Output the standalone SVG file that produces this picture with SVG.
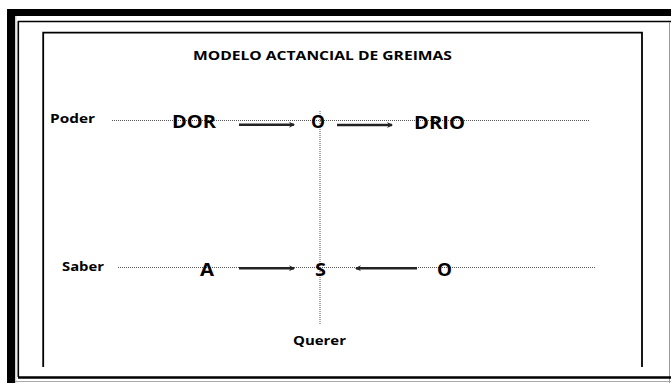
<svg xmlns="http://www.w3.org/2000/svg" width="671" height="383" viewBox="0 0 671 383">
<style>
.lbl{font-family:"Open Sans","Liberation Sans",sans-serif;font-weight:bold;fill:#000}
.small{font-size:12px}
.big{font-size:17px}
.dot{stroke:#555;stroke-width:1;stroke-dasharray:1 1;fill:none}
.arr{stroke:#222;stroke-width:2.5;fill:none;marker-end:url(#ah)}
.frame{stroke:#000;fill:none}
</style>
<defs>
<marker id="ah" markerWidth="8" markerHeight="8" refX="5" refY="4" orient="auto" markerUnits="userSpaceOnUse">
<path d="M0,1 L6,4 L0,7 L2,4 Z" fill="#222"/>
</marker>
</defs>
<rect width="671" height="383" fill="#fff"/>
<g id="frame">
<rect x="7" y="9" width="664" height="7" fill="#000"/>
<rect x="7" y="9" width="8" height="374" fill="#000"/>
<line x1="15.8" y1="16" x2="15.8" y2="383" stroke="#aaa" stroke-width="0.8"/>
<line x1="18" y1="21.5" x2="671" y2="21.5" class="frame" stroke-width="1.6"/>
<line x1="18.3" y1="21" x2="18.3" y2="377" class="frame" stroke-width="1.6"/>
<line x1="669.5" y1="22" x2="669.5" y2="383" stroke="#999" stroke-width="1"/>
<line x1="18" y1="377.5" x2="671" y2="377.5" class="frame" stroke-width="2.6"/>
<line x1="15" y1="381.5" x2="671" y2="381.5" stroke="#aaa" stroke-width="1"/>
<polyline points="43.2,367 43.2,32.6 642,32.6 642,367" class="frame" stroke-width="1.8"/>
</g>
<text id="title" class="lbl" x="193" y="60" font-size="11.5" textLength="259" lengthAdjust="spacingAndGlyphs">MODELO ACTANCIAL DE GREIMAS</text>
<g id="axes">
<line class="dot" x1="320" y1="111" x2="320" y2="324"/>
<line class="dot" x1="112" y1="120.5" x2="589" y2="120.5"/>
<line class="dot" x1="118" y1="267.5" x2="596" y2="267.5"/>
</g>
<g id="labels">
<text class="lbl small" x="50" y="123" textLength="45" lengthAdjust="spacingAndGlyphs">Poder</text>
<text class="lbl small" x="62" y="271" textLength="42" lengthAdjust="spacingAndGlyphs">Saber</text>
<text class="lbl small" x="293" y="345" textLength="53" lengthAdjust="spacingAndGlyphs">Querer</text>
</g>
<g id="n-dor"><text class="lbl big" x="172" y="128" textLength="44" lengthAdjust="spacingAndGlyphs">DOR</text></g>
<g id="n-o1"><text class="lbl big" x="311" y="128" textLength="14" lengthAdjust="spacingAndGlyphs">O</text></g>
<g id="n-drio"><text class="lbl big" x="414" y="128.5" textLength="51" lengthAdjust="spacingAndGlyphs">DRIO</text></g>
<g id="n-a"><text class="lbl big" x="200" y="276" textLength="14" lengthAdjust="spacingAndGlyphs">A</text></g>
<g id="n-s"><text class="lbl big" x="315" y="276" textLength="11" lengthAdjust="spacingAndGlyphs">S</text></g>
<g id="n-o2"><text class="lbl big" x="437" y="276" textLength="15" lengthAdjust="spacingAndGlyphs">O</text></g>
<g id="connectors">
<line class="arr" x1="239" y1="124.7" x2="294" y2="124.7"/>
<line class="arr" x1="337" y1="125" x2="392" y2="125"/>
<line class="arr" x1="239" y1="268.3" x2="294" y2="268.3"/>
<line class="arr" x1="417" y1="268.3" x2="356" y2="268.3"/>
</g>
</svg>
